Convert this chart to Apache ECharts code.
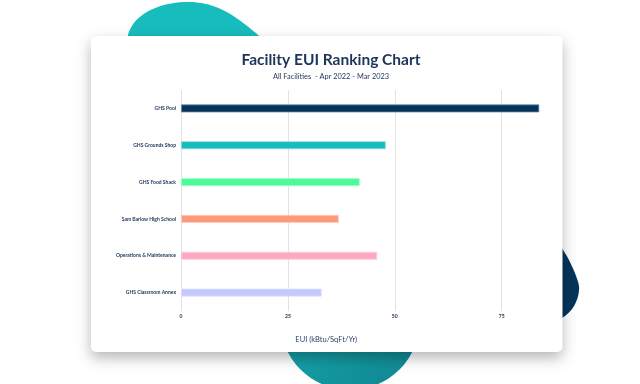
<!DOCTYPE html>
<html>
<head>
<meta charset="utf-8">
<script src="https://cdn.jsdelivr.net/npm/echarts@6/dist/echarts.min.js"></script>
<style>html,body{margin:0;padding:0;background:#fff}#c{width:640px;height:384px}</style>
</head>
<body>
<div id="c"></div>
<script>
const categories = ['GHS Pool', 'GHS Grounds Shop', 'GHS Food Shack', 'Sam Barlow High School', 'Operations & Maintenance', 'GHS Classroom Annex'];
const euiValues = [83.8, 47.9, 41.8, 36.9, 45.9, 32.9];
const barColors = ['#05335a', '#17bcbc', '#4cfc9a', '#fd9a7c', '#fea9c0', '#c3c8fd'];
const barBorders = ['#6f93b5', '#8fe0e0', '#a8fdcc', '#fecbbb', '#fed2de', '#e0e3fe'];
const xTicks = [0, 25, 50, 75];

// decorative background blob outlines (sampled cubic bezier segments)
function bez(p0, p1, p2, p3, n) {
  const out = [];
  for (let i = 0; i <= n; i++) {
    const t = i / n, u = 1 - t;
    out.push([u*u*u*p0[0] + 3*u*u*t*p1[0] + 3*u*t*t*p2[0] + t*t*t*p3[0],
              u*u*u*p0[1] + 3*u*u*t*p1[1] + 3*u*t*t*p2[1] + t*t*t*p3[1]]);
  }
  return out;
}
const topBlob = [].concat(bez([127,40],[130,14],[160,2],[188,2],20), bez([188,2],[218,2],[236,16],[264,40],20));
const navyBlob = [[546,222]].concat(bez([568,258],[576,274],[580,285],[579,290],10), bez([579,290],[578,305],[568,316],[558,320],10), [[540,320]]);

const navy = '#1b3458';
const chart = echarts.init(document.getElementById('c'), null, {renderer: 'canvas'});
chart.setOption({
  animation: false,
  graphic: [
    {type: 'polygon', z: -5, shape: {points: topBlob}, style: {fill: '#17bcbc'}},
    {type: 'polygon', z: -5, shape: {points: navyBlob}, style: {fill: '#04345a'}},
    {type: 'circle', z: -5, shape: {cx: 350, cy: 320, r: 70},
      style: {fill: {type: 'linear', x: 0, y: 0, x2: 1, y2: 1, colorStops: [{offset: 0, color: '#16b3b6'}, {offset: 1, color: '#10848f'}]}}},
    {type: 'rect', z: -4, shape: {x: 91, y: 36, width: 471.5, height: 316, r: 5},
      style: {fill: '#ffffff', shadowBlur: 14, shadowOffsetY: 6, shadowOffsetX: 0, shadowColor: 'rgba(0,0,0,0.28)'}}
  ],
  title: [
    {text: 'Facility EUI Ranking Chart', left: 326, textAlign: 'center', top: 47,
      textStyle: {fontFamily: 'Lato', fontWeight: 'bold', fontSize: 15.5, color: navy}},
    {text: 'All Facilities  - Apr 2022 - Mar 2023', left: 326, textAlign: 'center', top: 68,
      textStyle: {fontFamily: 'Lato', fontWeight: 'normal', fontSize: 7.4, color: navy}}
  ],
  grid: {left: 181, top: 90, bottom: 73, width: 363.4, containLabel: false},
  xAxis: {
    type: 'value', min: 0, max: 85, interval: 25, z: 3,
    name: 'EUI (kBtu/SqFt/Yr)', nameLocation: 'middle', nameGap: 25,
    nameTextStyle: {fontFamily: 'Lato', fontSize: 7.5, color: '#2a4565', padding: [0, 73, 0, 0]},
    axisLine: {show: false}, axisTick: {show: false},
    axisLabel: {fontFamily: 'Lato', fontSize: 5, fontWeight: 'bold', color: navy, margin: 3, showMaxLabel: false,
      formatter: v => xTicks.includes(v) ? String(v) : ''},
    splitLine: {show: true, showMinLine: true, showMaxLine: false, lineStyle: {color: '#e3e3e3', width: 1}}
  },
  yAxis: {
    type: 'category', data: categories, inverse: true, z: 3,
    axisLine: {show: false}, axisTick: {show: false},
    axisLabel: {fontFamily: 'Lato', fontSize: 5, fontWeight: 'bold', color: navy, margin: 5}
  },
  series: [{
    type: 'bar', barWidth: 8, z: 4,
    data: euiValues.map((v, i) => ({value: v, itemStyle: {color: barColors[i], borderColor: barBorders[i], borderWidth: 0.8}}))
  }]
});
</script>
</body>
</html>
